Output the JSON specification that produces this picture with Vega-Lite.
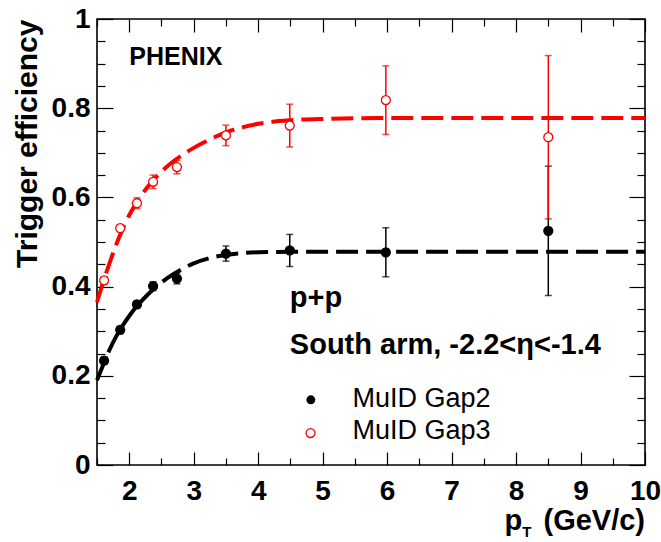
{
  "$schema": "https://vega.github.io/schema/vega-lite/v6.json",
  "width": 548,
  "height": 446,
  "autosize": "none",
  "padding": {"left": 97, "top": 19, "right": 16, "bottom": 77},
  "background": "white",
  "config": {
    "font": "Liberation Sans",
    "view": {"stroke": "black", "strokeWidth": 1.6},
    "axis": {
      "domain": false,
      "grid": false,
      "tickColor": "black",
      "tickWidth": 1.2,
      "labelFont": "Liberation Sans",
      "labelFontWeight": "bold",
      "labelFontSize": 28,
      "labelColor": "black",
      "labelFlush": false,
      "labelOverlap": false,
      "titleFont": "Liberation Sans",
      "titleFontWeight": "bold",
      "titleFontSize": 30,
      "titleColor": "black"
    }
  },
  "datasets": {
    "pts": [
      {"s": "MuID Gap2", "pt": 1.61, "eff": 0.234, "lo": 0.226, "hi": 0.242},
      {"s": "MuID Gap2", "pt": 1.86, "eff": 0.303, "lo": 0.295, "hi": 0.311},
      {"s": "MuID Gap2", "pt": 2.12, "eff": 0.360, "lo": 0.352, "hi": 0.368},
      {"s": "MuID Gap2", "pt": 2.37, "eff": 0.401, "lo": 0.391, "hi": 0.411},
      {"s": "MuID Gap2", "pt": 2.74, "eff": 0.418, "lo": 0.406, "hi": 0.430},
      {"s": "MuID Gap2", "pt": 3.50, "eff": 0.474, "lo": 0.457, "hi": 0.491},
      {"s": "MuID Gap2", "pt": 4.49, "eff": 0.481, "lo": 0.445, "hi": 0.517},
      {"s": "MuID Gap2", "pt": 5.98, "eff": 0.477, "lo": 0.422, "hi": 0.532},
      {"s": "MuID Gap2", "pt": 8.50, "eff": 0.525, "lo": 0.380, "hi": 0.670},
      {"s": "MuID Gap3", "pt": 1.61, "eff": 0.414, "lo": 0.406, "hi": 0.422},
      {"s": "MuID Gap3", "pt": 1.86, "eff": 0.531, "lo": 0.523, "hi": 0.539},
      {"s": "MuID Gap3", "pt": 2.12, "eff": 0.587, "lo": 0.575, "hi": 0.599},
      {"s": "MuID Gap3", "pt": 2.37, "eff": 0.635, "lo": 0.620, "hi": 0.650},
      {"s": "MuID Gap3", "pt": 2.74, "eff": 0.668, "lo": 0.653, "hi": 0.683},
      {"s": "MuID Gap3", "pt": 3.50, "eff": 0.739, "lo": 0.716, "hi": 0.762},
      {"s": "MuID Gap3", "pt": 4.49, "eff": 0.761, "lo": 0.713, "hi": 0.809},
      {"s": "MuID Gap3", "pt": 5.98, "eff": 0.818, "lo": 0.741, "hi": 0.895},
      {"s": "MuID Gap3", "pt": 8.50, "eff": 0.735, "lo": 0.552, "hi": 0.918}
    ],
    "curve": [
      {"s": "MuID Gap2", "pt": 1.5, "eff": 0.190},
      {"s": "MuID Gap2", "pt": 1.6, "eff": 0.226},
      {"s": "MuID Gap2", "pt": 1.7, "eff": 0.260},
      {"s": "MuID Gap2", "pt": 1.8, "eff": 0.289},
      {"s": "MuID Gap2", "pt": 1.9, "eff": 0.313},
      {"s": "MuID Gap2", "pt": 2.0, "eff": 0.334},
      {"s": "MuID Gap2", "pt": 2.1, "eff": 0.353},
      {"s": "MuID Gap2", "pt": 2.2, "eff": 0.369},
      {"s": "MuID Gap2", "pt": 2.3, "eff": 0.384},
      {"s": "MuID Gap2", "pt": 2.4, "eff": 0.397},
      {"s": "MuID Gap2", "pt": 2.6, "eff": 0.420},
      {"s": "MuID Gap2", "pt": 2.8, "eff": 0.438},
      {"s": "MuID Gap2", "pt": 3.0, "eff": 0.452},
      {"s": "MuID Gap2", "pt": 3.25, "eff": 0.464},
      {"s": "MuID Gap2", "pt": 3.5, "eff": 0.471},
      {"s": "MuID Gap2", "pt": 3.75, "eff": 0.475},
      {"s": "MuID Gap2", "pt": 4.0, "eff": 0.477},
      {"s": "MuID Gap2", "pt": 4.5, "eff": 0.478},
      {"s": "MuID Gap2", "pt": 5.0, "eff": 0.478},
      {"s": "MuID Gap2", "pt": 10.0, "eff": 0.478},
      {"s": "MuID Gap3", "pt": 1.5, "eff": 0.365},
      {"s": "MuID Gap3", "pt": 1.6, "eff": 0.412},
      {"s": "MuID Gap3", "pt": 1.7, "eff": 0.455},
      {"s": "MuID Gap3", "pt": 1.8, "eff": 0.495},
      {"s": "MuID Gap3", "pt": 1.9, "eff": 0.530},
      {"s": "MuID Gap3", "pt": 2.0, "eff": 0.560},
      {"s": "MuID Gap3", "pt": 2.1, "eff": 0.585},
      {"s": "MuID Gap3", "pt": 2.2, "eff": 0.607},
      {"s": "MuID Gap3", "pt": 2.3, "eff": 0.626},
      {"s": "MuID Gap3", "pt": 2.4, "eff": 0.643},
      {"s": "MuID Gap3", "pt": 2.6, "eff": 0.671},
      {"s": "MuID Gap3", "pt": 2.8, "eff": 0.693},
      {"s": "MuID Gap3", "pt": 3.0, "eff": 0.711},
      {"s": "MuID Gap3", "pt": 3.25, "eff": 0.730},
      {"s": "MuID Gap3", "pt": 3.5, "eff": 0.746},
      {"s": "MuID Gap3", "pt": 3.75, "eff": 0.757},
      {"s": "MuID Gap3", "pt": 4.0, "eff": 0.765},
      {"s": "MuID Gap3", "pt": 4.5, "eff": 0.773},
      {"s": "MuID Gap3", "pt": 5.0, "eff": 0.776},
      {"s": "MuID Gap3", "pt": 6.0, "eff": 0.778},
      {"s": "MuID Gap3", "pt": 10.0, "eff": 0.778}
    ]
  },
  "resolve": {"axis": {"x": "independent", "y": "independent"}},
  "layer": [
    {
      "data": {"name": "curve"},
      "mark": {"type": "point", "opacity": 0},
      "encoding": {
        "x": {"field": "pt", "type": "quantitative",
          "scale": {"domain": [1.5, 10], "nice": false, "zero": false},
          "axis": {"orient": "bottom", "values": [2, 3, 4, 5, 6, 7, 8, 9, 10], "tickSize": -13, "labelPadding": 25, "format": "d", "title": null}},
        "y": {"field": "eff", "type": "quantitative",
          "scale": {"domain": [0, 1], "nice": false, "zero": true},
          "axis": {"orient": "left", "values": [0, 0.2, 0.4, 0.6, 0.8, 1], "tickSize": -16, "labelPadding": 23, "format": "~g",
            "title": "Trigger efficiency", "titleAnchor": "end", "titlePadding": 9}}
      }
    },
    {
      "data": {"name": "curve"},
      "mark": {"type": "point", "opacity": 0},
      "encoding": {
        "x": {"field": "pt", "type": "quantitative",
          "axis": {"orient": "bottom", "values": [1.5, 2.5, 3.5, 4.5, 5.5, 6.5, 7.5, 8.5, 9.5], "tickSize": -7, "labels": false, "title": null}},
        "y": {"field": "eff", "type": "quantitative",
          "axis": {"orient": "left", "values": [0.05, 0.1, 0.15, 0.25, 0.3, 0.35, 0.45, 0.5, 0.55, 0.65, 0.7, 0.75, 0.85, 0.9, 0.95], "tickSize": -8, "labels": false, "title": null}}
      }
    },
    {
      "data": {"name": "curve"},
      "mark": {"type": "point", "opacity": 0},
      "encoding": {
        "x": {"field": "pt", "type": "quantitative",
          "axis": {"orient": "top", "values": [2, 3, 4, 5, 6, 7, 8, 9, 10], "tickSize": -13, "labels": false, "title": null}},
        "y": {"field": "eff", "type": "quantitative",
          "axis": {"orient": "right", "values": [0, 0.2, 0.4, 0.6, 0.8, 1], "tickSize": -16, "labels": false, "title": null}}
      }
    },
    {
      "data": {"name": "curve"},
      "mark": {"type": "point", "opacity": 0},
      "encoding": {
        "x": {"field": "pt", "type": "quantitative",
          "axis": {"orient": "top", "values": [1.5, 2.5, 3.5, 4.5, 5.5, 6.5, 7.5, 8.5, 9.5], "tickSize": -7, "labels": false, "title": null}},
        "y": {"field": "eff", "type": "quantitative",
          "axis": {"orient": "right", "values": [0.05, 0.1, 0.15, 0.25, 0.3, 0.35, 0.45, 0.5, 0.55, 0.65, 0.7, 0.75, 0.85, 0.9, 0.95], "tickSize": -8, "labels": false, "title": null}}
      }
    },
    {
      "data": {"name": "curve"},
      "mark": {"type": "line", "strokeWidth": 4, "strokeDash": [22, 8], "interpolate": "monotone"},
      "encoding": {
        "x": {"field": "pt", "type": "quantitative", "axis": null},
        "y": {"field": "eff", "type": "quantitative", "axis": null},
        "color": {"field": "s", "type": "nominal", "legend": null}
      }
    },
    {
      "data": {"name": "pts"},
      "mark": {"type": "errorbar", "thickness": 1.5, "ticks": {"size": 7, "thickness": 1.5}},
      "encoding": {
        "x": {"field": "pt", "type": "quantitative", "axis": null},
        "y": {"field": "lo", "type": "quantitative", "axis": null},
        "y2": {"field": "hi"},
        "color": {"field": "s", "type": "nominal", "legend": null}
      }
    },
    {
      "data": {"name": "pts"},
      "mark": {"type": "point", "shape": "circle", "size": 80, "strokeWidth": 1.3, "opacity": 1},
      "encoding": {
        "x": {"field": "pt", "type": "quantitative", "axis": null},
        "y": {"field": "eff", "type": "quantitative", "axis": null},
        "color": {"field": "s", "type": "nominal",
          "scale": {"domain": ["MuID Gap2", "MuID Gap3"], "range": ["black", "#ff0000"]}, "legend": null},
        "fill": {"field": "s", "type": "nominal",
          "scale": {"domain": ["MuID Gap2", "MuID Gap3"], "range": ["black", "white"]}, "legend": null}
      }
    },
    {
      "data": {"values": [{}]},
      "mark": {"type": "point", "shape": "circle", "size": 80, "filled": true, "color": "black", "opacity": 1},
      "encoding": {
        "x": {"datum": 4.817, "type": "quantitative", "axis": null},
        "y": {"datum": 0.1462, "type": "quantitative", "axis": null}
      }
    },
    {
      "data": {"values": [{}]},
      "mark": {"type": "point", "shape": "circle", "size": 80, "filled": false, "color": "#ff0000", "fill": "white", "strokeWidth": 1.3, "opacity": 1},
      "encoding": {
        "x": {"datum": 4.812, "type": "quantitative", "axis": null},
        "y": {"datum": 0.0717, "type": "quantitative", "axis": null}
      }
    },
    {
      "data": {"values": [{}]},
      "mark": {"type": "text", "align": "left", "baseline": "alphabetic", "fontWeight": "normal", "fontSize": 27, "color": "black"},
      "encoding": {
        "x": {"datum": 5.464, "type": "quantitative", "axis": null},
        "y": {"datum": 0.1299, "type": "quantitative", "axis": null},
        "text": {"value": "MuID Gap2"}
      }
    },
    {
      "data": {"values": [{}]},
      "mark": {"type": "text", "align": "left", "baseline": "alphabetic", "fontWeight": "normal", "fontSize": 27, "color": "black"},
      "encoding": {
        "x": {"datum": 5.464, "type": "quantitative", "axis": null},
        "y": {"datum": 0.0582, "type": "quantitative", "axis": null},
        "text": {"value": "MuID Gap3"}
      }
    },
    {
      "data": {"values": [{}]},
      "mark": {"type": "text", "align": "left", "baseline": "alphabetic", "fontWeight": "bold", "fontSize": 25, "color": "black"},
      "encoding": {
        "x": {"datum": 2.0, "type": "quantitative", "axis": null},
        "y": {"datum": 0.8965, "type": "quantitative", "axis": null},
        "text": {"value": "PHENIX"}
      }
    },
    {
      "data": {"values": [{}]},
      "mark": {"type": "text", "align": "left", "baseline": "alphabetic", "fontWeight": "bold", "fontSize": 29, "color": "black"},
      "encoding": {
        "x": {"datum": 4.491, "type": "quantitative", "axis": null},
        "y": {"datum": 0.355, "type": "quantitative", "axis": null},
        "text": {"value": "p+p"}
      }
    },
    {
      "data": {"values": [{}]},
      "mark": {"type": "text", "align": "left", "baseline": "alphabetic", "fontWeight": "bold", "fontSize": 29, "color": "black"},
      "encoding": {
        "x": {"datum": 4.491, "type": "quantitative", "axis": null},
        "y": {"datum": 0.2493, "type": "quantitative", "axis": null},
        "text": {"value": "South arm, -2.2<η<-1.4"}
      }
    },
    {
      "data": {"values": [{}]},
      "mark": {"type": "text", "align": "left", "baseline": "alphabetic", "fontWeight": "bold", "fontSize": 29, "color": "black"},
      "encoding": {
        "x": {"datum": 7.82, "type": "quantitative", "axis": null},
        "y": {"datum": -0.145, "type": "quantitative", "axis": null},
        "text": {"value": "p"}
      }
    },
    {
      "data": {"values": [{}]},
      "mark": {"type": "text", "align": "left", "baseline": "alphabetic", "fontWeight": "bold", "fontSize": 15, "color": "black"},
      "encoding": {
        "x": {"datum": 8.095, "type": "quantitative", "axis": null},
        "y": {"datum": -0.162, "type": "quantitative", "axis": null},
        "text": {"value": "T"}
      }
    },
    {
      "data": {"values": [{}]},
      "mark": {"type": "text", "align": "right", "baseline": "alphabetic", "fontWeight": "bold", "fontSize": 29, "color": "black"},
      "encoding": {
        "x": {"datum": 10, "type": "quantitative", "axis": null},
        "y": {"datum": -0.145, "type": "quantitative", "axis": null},
        "text": {"value": "(GeV/c)"}
      }
    }
  ]
}
